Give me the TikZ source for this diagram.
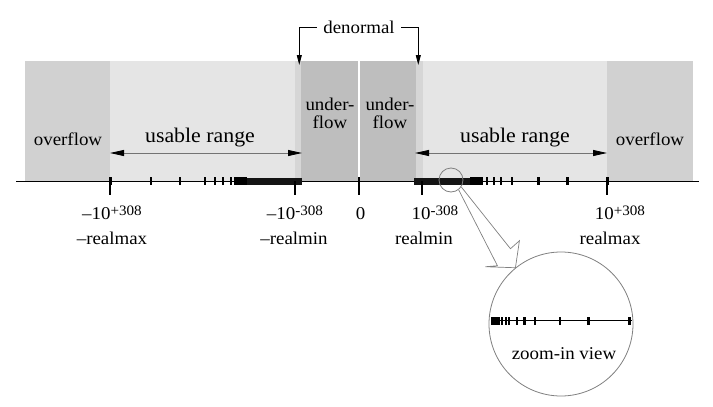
\documentclass[tikz,border=0pt]{standalone}
\usepackage{fontspec}
\setmainfont{Liberation Serif}[FakeStretch=1.05]
\usetikzlibrary{arrows.meta,calc,positioning}

\definecolor{ovfgray}{gray}{0.82}
\definecolor{usegray}{gray}{0.90}
\definecolor{dengray}{gray}{0.84}
\definecolor{undgray}{gray}{0.745}

\newcommand{\expo}[1]{\raisebox{2.2pt}{\fontsize{7.2}{8}\selectfont #1}}

\tikzstyle{lbl}=[font=\fontsize{9}{9}\selectfont,inner sep=1pt,anchor=base]
\tikzstyle{biglbl}=[font=\fontsize{10.4}{12}\selectfont,inner sep=1pt,anchor=base]
\tikzstyle{fptick}=[line width=1pt]
\tikzstyle{fpthick}=[line width=1.5pt]
\tikzstyle{axtick}=[line width=0.6pt]
\tikzstyle{rangearrow}=[draw=black!55,line width=0.4pt,{Triangle[length=7pt,width=3pt,black]}-{Triangle[length=7pt,width=3pt,black]}]
\tikzstyle{denarrow}=[draw,line width=0.4pt,-{Triangle[length=5pt,width=2.5pt]}]
\tikzstyle{lens}=[circle,draw=black!50,line width=0.4pt,inner sep=0pt]
\tikzstyle{callout}=[draw=black!50,line width=0.35pt,line join=miter]

\begin{document}
\begin{tikzpicture}[x=0.5pt,y=-0.5pt]
    \useasboundingbox (0,0) rectangle (713,407);

    % regions of the band
    \foreach \xa/\xb/\col in {25/110/ovfgray, 110/295/usegray, 295/301/dengray, 301/357.7/undgray,
        360/416/undgray, 416/422.5/dengray, 422.5/607/usegray, 607/693/ovfgray}
        \fill[\col] (\xa,61) rectangle (\xb,181);

    % number line
    \coordinate (axL) at (16,181);
    \coordinate (axR) at (699,181);
    \draw[line width=0.5pt] (axL) -- (axR);

    \fill (234,177) rectangle (247,185);
    \fill[black!92] (247,177.5) rectangle (302,184.5);
    \fill[black!92] (414,177.5) rectangle (470,184.5);
    \fill (470,177) rectangle (483,185);
    \foreach \x in {151,180,205,215,223,231,487,494,501,512}
        \draw[fptick] (\x,177) -- (\x,185);
    \foreach \x in {110,538,567,607}
        \draw[fpthick] (\x,177) -- (\x,185);

    \foreach \pos/\name in {110/nmax, 295/nmin, 422/pmin, 607/pmax}
        \coordinate (\name) at (\pos,181);
    \foreach \name in {nmax,nmin,pmin,pmax}
        \draw[axtick] (\name) -- ++(0,14);
    \coordinate (zero) at (359,177);
    \draw[axtick] (zero) -- (359,195);

    % labels below the line
    \node[lbl] (lnmax) at (112,219.5) {–10\expo{+308}};
    \node[lbl] (lnmin) at (295,219.5) {–10\expo{-308}};
    \node[lbl] (lzero) at (360.5,219.5) {0};
    \node[lbl] (lpmin) at (435,219.5) {10\expo{-308}};
    \node[lbl] (lpmax) at (620,219.5) {10\expo{+308}};
    \node[lbl] (rnmax) at (112,244) {–realmax};
    \node[lbl] (rnmin) at (294,244) {–realmin};
    \node[lbl] (rpmin) at (424,244) {realmin};
    \node[lbl] (rpmax) at (610,244) {realmax};

    % labels in the band
    \node[lbl] (ovfL) at (68,145) {overflow};
    \node[lbl] (ovfR) at (650,145) {overflow};
    \node[biglbl] (useL) at (200,142) {usable range};
    \node[biglbl] (useR) at (515,142) {usable range};
    \node[lbl,align=center,anchor=center] (undL) at (330,113.5) {under-\\flow};
    \node[lbl,align=center,anchor=center] (undR) at (390,113.5) {under-\\flow};

    \coordinate (uLa) at (110,153);
    \coordinate (uLb) at (302,153);
    \coordinate (uRa) at (415,153);
    \coordinate (uRb) at (607,153);
    \draw[rangearrow] (uLa) -- (uLb);
    \draw[rangearrow] (uRa) -- (uRb);

    % denormal
    \node[lbl,anchor=center,inner sep=3pt] (den) at (359,27.5) {denormal};
    \coordinate (denL) at (299.3,65);
    \coordinate (denR) at (418.3,65);
    \draw[denarrow] (den.west) -| (denL);
    \draw[denarrow] (den.east) -| (denR);

    % zoom-in view
    \node[lens,minimum size=12pt] (lens) at (451,180) {};
    \node[lens,minimum size=72pt] (view) at (561,324) {};
    \draw[callout] (lens.-52) -- ($(view.129)+(-18,-2)$) -- ($(view.129)+(-30,-1)$) -- (view.129)
        -- ($(view.129)+(4,-27)$) -- ($(view.129)+(-5,-19)$) -- (lens.-34);

    \coordinate (zL) at (491,320.7);
    \coordinate (zR) at (632,320.7);
    \draw[line width=0.5pt] (zL) -- (zR);
    \fill (491,317) rectangle (500,324.5);
    \foreach \x in {502.3,505.7,509,517.3,535,560}
        \draw[fptick] (\x,317) -- (\x,324.5);
    \foreach \x in {524.3,588.3,629.3}
        \draw[fpthick] (\x,317) -- (\x,324.5);
    \node[lbl] (zoomtxt) at (564,359) {zoom-in view};

\end{tikzpicture}
\end{document}
